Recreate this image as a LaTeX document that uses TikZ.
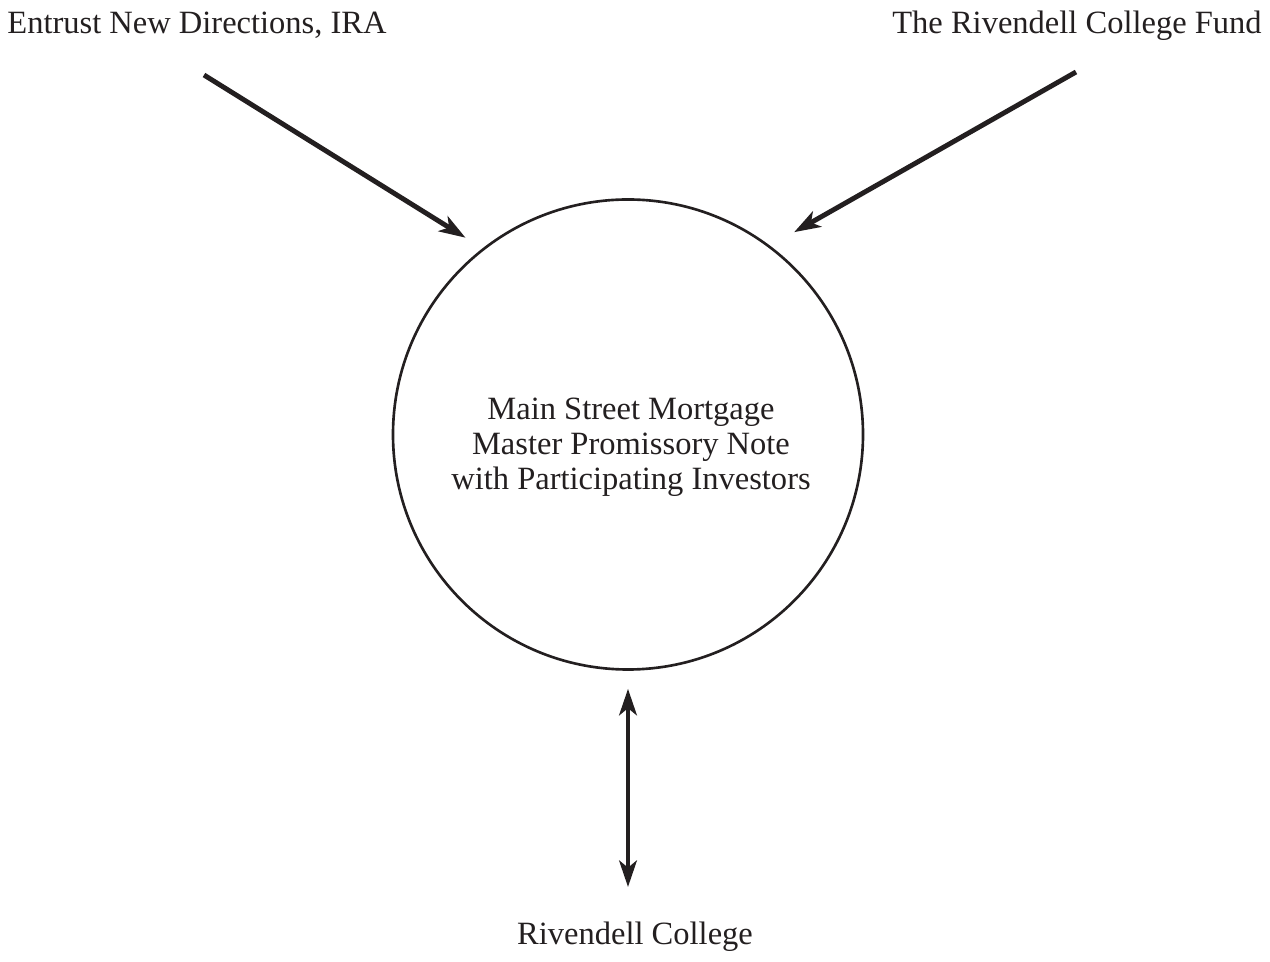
\documentclass[tikz,border=0pt]{standalone}
\usepackage{fontspec}
\setmainfont{Liberation Serif}
\usepackage{tikz}
\usetikzlibrary{arrows.meta}
\usetikzlibrary{positioning}
\definecolor{ink}{HTML}{231F20}

\begin{document}
\begin{tikzpicture}[->, >={Stealth[length=7.5pt,width=5pt,inset=2pt]}, color=ink, font=\fontsize{9.25}{10}\selectfont]
\tikzstyle{party} = [text=ink, inner sep=0pt, anchor=base]
\tikzstyle{flow} = [line width=1.4pt]
\useasboundingbox (0,0) rectangle (12.7,-9.62);

\node[draw, circle, line width=0.75pt, minimum size=4.7cm, inner sep=0pt] (Note) at (6.28,-4.345) {};
\node[align=center, text=ink] (NoteText) at (6.31,-4.47) {Main Street Mortgage\\Master Promissory Note\\with Participating Investors};

\node[party] (IRA) at (1.97,-0.335) {Entrust New Directions, IRA};
\node[party] (Fund) at (10.77,-0.335) {The Rivendell College Fund};
\node[party] (College) at (6.35,-9.44) {Rivendell College};

\coordinate (IRA-out) at (2.04,-0.75);
\coordinate (Fund-out) at (10.76,-0.72);
\coordinate (College-in) at (6.28,-8.87);

\draw[flow, shorten >=0.2cm] (IRA-out) -- (Note.128.9);
\draw[flow, shorten >=0.275cm] (Fund-out) -- (Note.53.6);
\draw[flow, <->, shorten <=0.18cm] (Note.south) -- (College-in);

\end{tikzpicture}
\end{document}
